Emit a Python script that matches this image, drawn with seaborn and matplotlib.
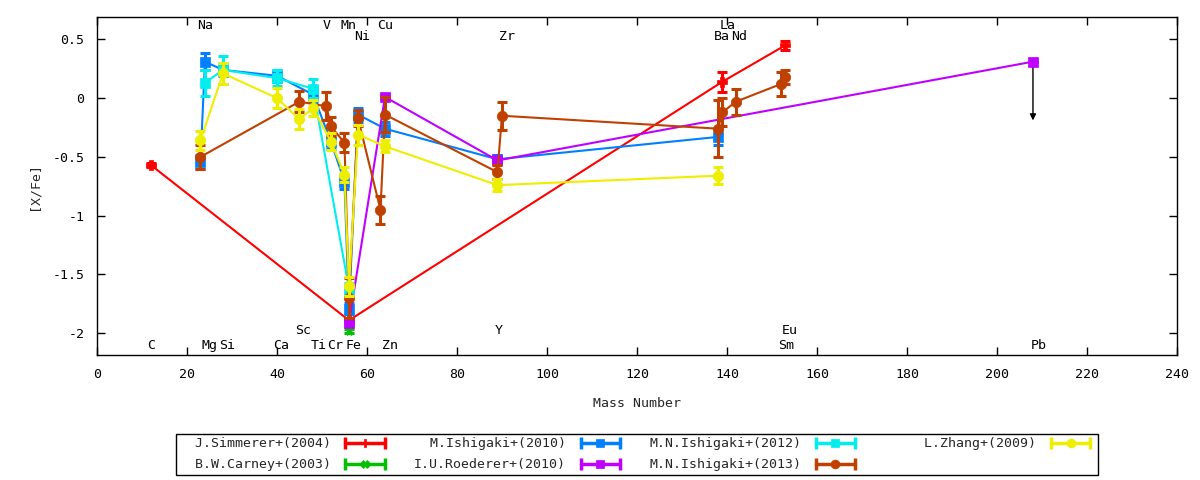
import matplotlib
matplotlib.use("Agg")
import matplotlib.pyplot as plt
from matplotlib.lines import Line2D
from matplotlib.legend_handler import HandlerLine2D, HandlerTuple
from matplotlib.ticker import FuncFormatter, MultipleLocator
import pandas as pd
import seaborn as sns

# --- data (mass number, [X/Fe], error) ---
simmerer_mass = [12, 56, 139, 153]
simmerer_val = [-0.57, -1.89, 0.14, 0.45]
simmerer_err = [0.02, 0.02, 0.085, 0.04]

carney_mass = [56]
carney_val = [-1.98]
carney_err = [0.02]

ishigaki10_mass = [23, 24, 28, 40, 48, 52, 55, 56, 58, 64, 89, 138]
ishigaki10_val = [-0.54, 0.31, 0.24, 0.19, 0.03, -0.37, -0.71, -1.79, -0.14, -0.26, -0.52, -0.33]
ishigaki10_err = [0.06, 0.07, 0.05, 0.05, 0.06, 0.06, 0.06, 0.05, 0.06, 0.06, 0.04, 0.07]

roederer_mass = [56, 64, 89, 208]
roederer_val = [-1.91, 0.01, -0.53, 0.31]
roederer_err = [0.02, 0.02, 0.02, 0.0]
roederer_uplim_to = -0.19  # Pb upper limit arrow

mni12_mass = [24, 28, 40, 48, 56]
mni12_val = [0.13, 0.24, 0.17, 0.08, -1.62]
mni12_err = [0.11, 0.12, 0.07, 0.08, 0.05]

mni13_mass = [23, 45, 51, 52, 55, 56, 58, 63, 64, 89, 90, 138, 139, 142, 152, 153]
mni13_val = [-0.50, -0.03, -0.07, -0.24, -0.38, -1.70, -0.17, -0.95, -0.14,
             -0.63, -0.15, -0.26, -0.12, -0.03, 0.12, 0.18]
mni13_err = [0.10, 0.09, 0.12, 0.08, 0.08, 0.17, 0.07, 0.12, 0.15,
             0.06, 0.12, 0.24, 0.12, 0.11, 0.10, 0.06]

zhang_mass = [23, 28, 40, 45, 48, 52, 55, 56, 58, 64, 89, 138]
zhang_val = [-0.36, 0.21, 0.0, -0.18, -0.085, -0.37, -0.65, -1.60, -0.31, -0.41, -0.74, -0.66]
zhang_err = [0.08, 0.09, 0.085, 0.085, 0.07, 0.07, 0.06, 0.08, 0.085, 0.05, 0.05, 0.07]

# element labels: name, x, y
elem_names = ["C", "Na", "Mg", "Si", "Ca", "Sc", "Ti", "Cr", "Fe", "V", "Mn", "Ni",
              "Cu", "Zn", "Zr", "Y", "La", "Ba", "Nd", "Eu", "Sm", "Pb"]
elem_x = [12.0, 24.0, 24.9, 28.9, 41.0, 45.8, 49.2, 52.9, 57.1, 51.0, 55.8, 59.0,
          64.1, 65.1, 91.1, 89.3, 140.2, 138.9, 142.7, 154.0, 153.1, 209.3]
elem_y = [-2.10, 0.62, -2.10, -2.10, -2.10, -1.98, -2.10, -2.10, -2.10, 0.62, 0.62, 0.52,
          0.62, -2.10, 0.52, -1.98, 0.62, 0.52, 0.52, -1.98, -2.10, -2.10]

series = [
    ("J.Simmerer+(2004)", simmerer_mass, simmerer_val, simmerer_err, "#ff0000", "P", 7),
    ("B.W.Carney+(2003)", carney_mass, carney_val, carney_err, "#00c000", "X", 6),
    ("M.Ishigaki+(2010)", ishigaki10_mass, ishigaki10_val, ishigaki10_err, "#0080ff", "s", 7),
    ("I.U.Roederer+(2010)", roederer_mass, roederer_val, roederer_err, "#c000ff", "s", 7),
    ("M.N.Ishigaki+(2012)", mni12_mass, mni12_val, mni12_err, "#00eeee", "s", 7),
    ("M.N.Ishigaki+(2013)", mni13_mass, mni13_val, mni13_err, "#c04000", "o", 7.5),
    ("L.Zhang+(2009)", zhang_mass, zhang_val, zhang_err, "#eeee00", "o", 7.5),
]

sns.set_style("ticks")
plt.rcParams["font.family"] = ["DejaVu Sans Mono"]
plt.rcParams["font.size"] = 9.5
plt.rcParams["axes.unicode_minus"] = False

fig = plt.figure(figsize=(12, 4.8), dpi=100)
ax = fig.add_axes([0.0808, 0.2604, 0.9, 0.7042])

# upper limit arrow for Pb (under the marker)
ax.annotate("", xy=(roederer_mass[-1], roederer_uplim_to),
            xytext=(roederer_mass[-1], roederer_val[-1]),
            arrowprops=dict(arrowstyle="-|>", color="black", lw=1, mutation_scale=9,
                            shrinkA=0, shrinkB=0), zorder=1)

handles = []
hmap = {}
for name, mass, val, err, color, marker, ms in series:
    df = pd.DataFrame({"mass": mass, "val": val})
    sns.lineplot(data=df, x="mass", y="val", sort=False, color=color, marker=marker,
                 markersize=ms, markeredgewidth=0.5, markeredgecolor=color,
                 linewidth=1.5, errorbar=None, ax=ax, zorder=2)
    ax.errorbar(mass, val, yerr=err, fmt="none", ecolor=color, elinewidth=2.2,
                capsize=3.5, capthick=2.2, zorder=2)
    caps = Line2D([], [], color=color, lw=2.5, marker="|", markersize=9, markeredgewidth=2.5)
    dot = Line2D([], [], color=color, lw=0, marker=marker, markersize=ms * 0.85,
                 markeredgewidth=0.5)
    hmap[caps] = HandlerLine2D(numpoints=2)
    handles.append((caps, dot))

for n, x, y in zip(elem_names, elem_x, elem_y):
    ax.text(x, y, n, ha="center", va="center", fontsize=9.5, color="black")

ax.set_xlim(0, 240)
ax.set_ylim(-2.185, 0.69)
ax.xaxis.set_major_locator(MultipleLocator(20))
ax.yaxis.set_major_locator(MultipleLocator(0.5))
ax.yaxis.set_major_formatter(FuncFormatter(lambda v, p: "%g" % v))
ax.tick_params(direction="in", length=6, width=1, top=True, right=True, pad=9,
               labelsize=9.5, colors="black")
for s in ax.spines.values():
    s.set_linewidth(1)
    s.set_color("black")

ax.set_xlabel("Mass Number", fontsize=9.5)
ax.set_ylabel("[X/Fe]", fontsize=9.5)
ax.xaxis.set_label_coords(0.5, -0.125)
ax.yaxis.set_label_coords(-0.052, 0.5)

hmap[tuple] = HandlerTuple(ndivide=1, pad=0)
labels = [s[0].rjust(19) for s in series]
leg = fig.legend(handles, labels, handler_map=hmap, loc="upper center",
                 bbox_to_anchor=(0.5305, 0.0958), ncol=4, markerfirst=False,
                 frameon=True, fancybox=False, framealpha=1, edgecolor="black",
                 handlelength=3.6, handletextpad=0.8, columnspacing=1.9,
                 labelspacing=0.62, borderpad=0.25, borderaxespad=0, fontsize=9.5)
leg.get_frame().set_linewidth(1)

plt.savefig("out.png", dpi=100)
